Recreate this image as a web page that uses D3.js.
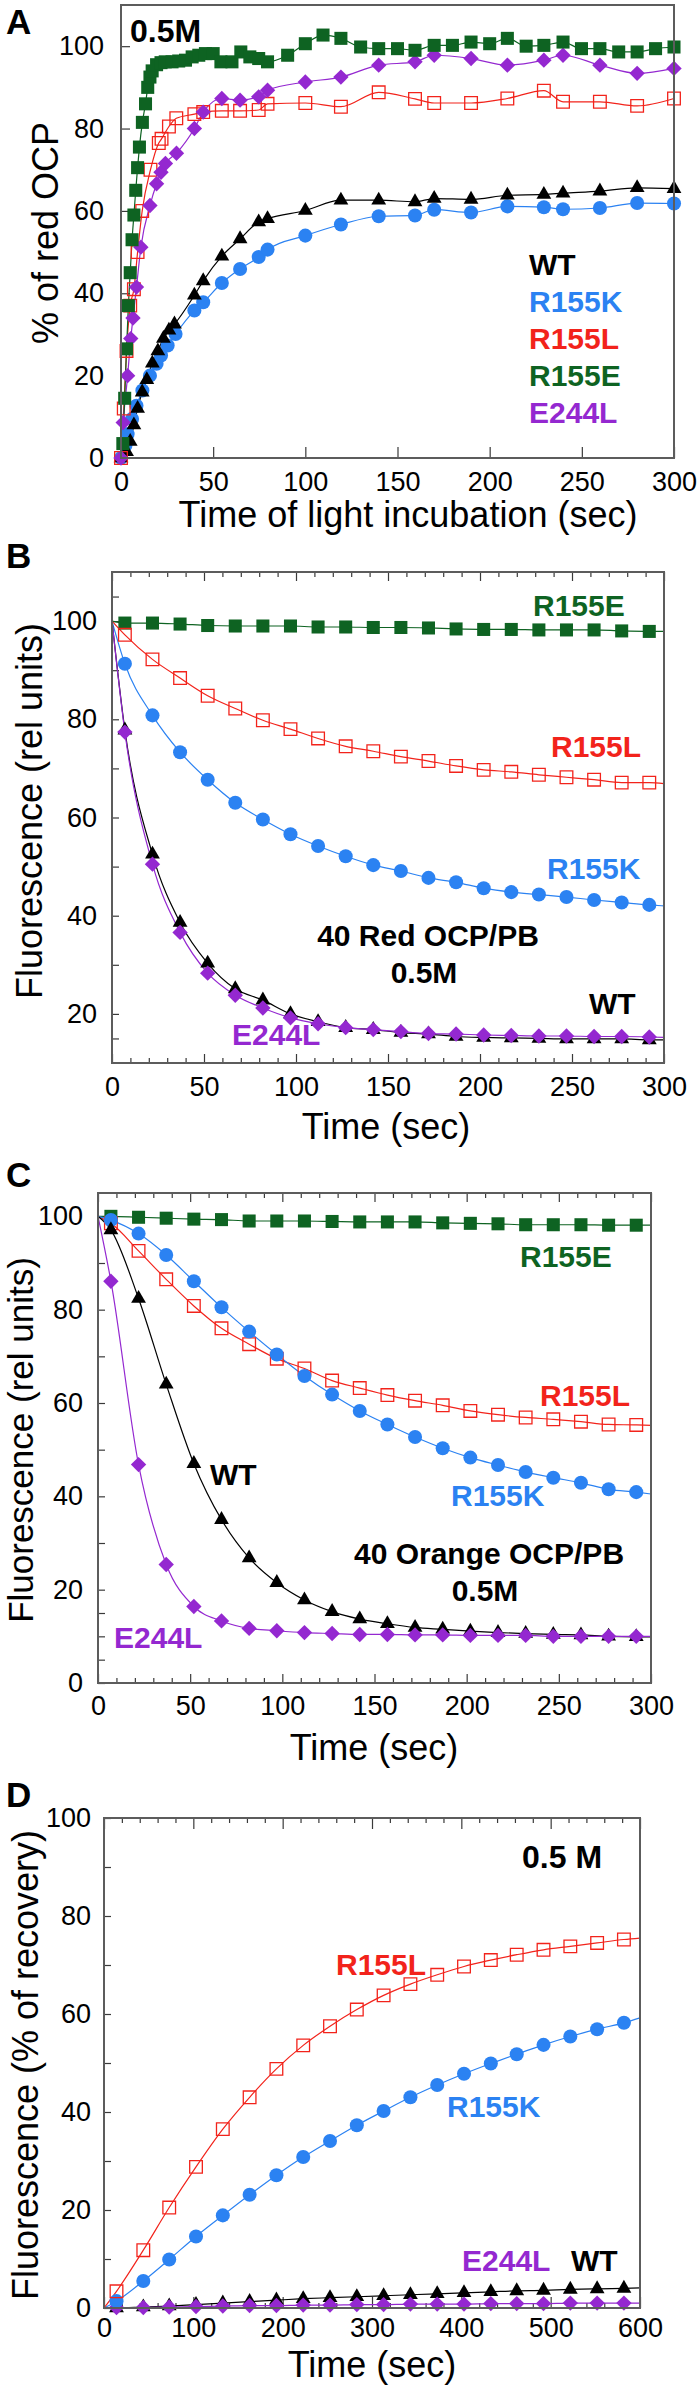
<!DOCTYPE html>
<html><head><meta charset="utf-8">
<script src="https://cdn.jsdelivr.net/npm/d3@7"></script>
<style>
body{margin:0;background:#fff}
svg{display:block}
</style>
</head><body>
<svg id="c" width="697" height="2386"></svg>
<script>
// ---------------- DATA ----------------
const seriesNames = ["R155K","WT","R155L","E244L","R155E"];

// Panel A: % of red OCP vs time of light incubation (sec)
const aR155K = [[0,0],[2.4,3],[3.6,5.8],[6,9.5],[8.4,12.7],[11.6,16.4],[15.7,20],[19.3,22.9],[21.7,24.9],[25.3,27.3],[29.6,30.1],[39.8,35.8],[44.6,37.8],[54.7,42.5],[64.6,45.9],[74.7,48.8],[79.5,50.6],[100,54],[119.3,56.7],[139.8,58.7],[159.5,58.9],[169.9,60.3],[189.9,59.6],[209.6,61.1],[229.4,60.9],[239.8,60.4],[259.8,60.7],[280,61.9],[300,61.8]];
const aWT = [[0,0],[3,1.5],[5,4],[7,8],[9,12],[11.5,16],[14,19],[17,23],[20,26],[23,29],[26,31],[29,32.5],[39.8,39.5],[44.6,43],[54.7,49],[64.6,53.2],[74.7,57.3],[79.5,58.1],[100,60.1],[119.3,62.6],[139.8,62.6],[159.5,62.2],[169.9,63],[189.9,62.8],[209.6,63.8],[229.4,64],[239.8,64.3],[259.8,64.8],[280,65.6],[300,65.4]];
const aR155L = [[0,0],[1.5,12],[3,26],[5,37],[7,41],[9,50],[11.5,60],[16,70],[20.5,76.5],[22,77.5],[26,80.5],[30,82.5],[39.8,83.5],[44.6,84],[54.7,84.3],[64.6,84.3],[74.7,84.5],[79.5,86],[100,86.2],[119.3,85.3],[139.8,88.8],[159.5,87.2],[169.9,86.2],[189.9,86.2],[209.6,87.3],[229.4,89.2],[239.8,86.5],[259.8,86.5],[280,85.5],[300,87.3]];
const aE244L = [[0,0],[1.2,8.6],[3.6,20],[5.3,29],[6.5,34],[8.4,41.5],[10.8,51.2],[15.7,61.3],[19.3,66.6],[21.7,69.4],[24.1,71.5],[30.1,74],[39.8,80],[44.6,84],[54.7,87.3],[64.6,86.9],[74.7,87.7],[79.5,89.3],[100,91.3],[119.3,92.5],[139.8,95.4],[159.5,96.2],[169.9,97.8],[189.9,97],[209.6,95.4],[229.4,96.6],[239.8,97.8],[259.8,95.4],[280,93.4],[300,94.6]];
const aR155E = [[1,3.5],[2,14.5],[3,26.5],[4,37],[5,45],[6,53],[7,59],[8,65],[9,70.5],[10,75.5],[11.6,81.5],[13.3,86],[14.5,90],[15.7,92.5],[16.9,94],[19.3,95.5],[21.7,96],[24,96.2],[27.7,96.2],[31.3,96.4],[35,96.6],[38.6,97.4],[42.2,97.8],[45.8,98.2],[50,98.2],[54.2,96.2],[60.2,96.2],[65,98.6],[69.9,97.4],[74.7,97],[79.5,96.2],[90.4,97.8],[100,100.6],[109.6,102.7],[119.3,101.9],[130,99.8],[139.8,99.4],[150,99.4],[159.5,99],[169.9,100.2],[179.8,100.2],[189.9,101],[200,100.6],[209.6,101.9],[219.8,100],[229.4,100.2],[239.8,101],[249.8,99.4],[259.8,99.4],[270,98.6],[280,98.6],[290,99.4],[300,99.8]];

// Panel B: 40 Red OCP/PB, fluorescence (rel units)
const bTimes = [7,22,37,52,67,82,97,112,127,142,157,172,187,202,217,232,247,262,277,292];
const bR155E = [99.6,99.6,99.4,99.1,99.0,99.0,99.0,98.8,98.8,98.7,98.7,98.6,98.4,98.3,98.3,98.2,98.2,98.2,98.0,97.9];
const bR155L = [97.2,92.2,88.4,84.8,82.2,79.8,78.0,76.1,74.5,73.5,72.4,71.5,70.5,69.7,69.3,68.7,68.2,67.7,67.1,67.1];
const bR155K = [91.3,80.8,73.3,67.7,63.0,59.6,56.6,54.2,52.1,50.3,49.1,47.7,46.8,45.6,44.8,44.3,43.8,43.2,42.7,42.2];
const bWT    = [77.8,52.5,38.6,30.3,25.1,22.8,20.0,18.4,17.2,16.8,16.2,15.9,15.4,15.2,15.1,15.0,14.9,14.9,14.9,14.7];
const bE244L = [77.4,50.5,36.6,28.3,23.8,21.2,19.2,18.0,17.2,16.8,16.4,16.0,15.9,15.7,15.6,15.5,15.5,15.4,15.4,15.3];
const bFitStart = 100;           // all fitted curves start at (0, 100)
const bFitEnd = {R155E:97.9, R155L:66.9, R155K:42.0, WT:14.7, E244L:15.2}; // curve value at t = 300

// Panel C: 40 Orange OCP/PB
const cTimes = [7,22,37,52,67,82,97,112,127,142,157,172,187,202,217,232,247,262,277,292];
const cR155E = [100,99.8,99.6,99.4,99.3,99.0,99.0,99.0,98.9,98.8,98.8,98.8,98.6,98.5,98.4,98.2,98.2,98.2,98.1,98.1];
const cR155L = [98.5,92.6,86.5,80.8,76.0,72.6,69.5,67.4,64.8,63.2,61.7,60.5,59.5,58.3,57.5,56.9,56.5,56.0,55.4,55.3];
const cR155K = [99.2,96.3,91.7,86.1,80.5,75.3,70.4,65.8,61.8,58.3,55.4,52.7,50.3,48.3,46.7,45.2,44.0,42.9,41.5,40.9];
const cWT    = [97.1,82.4,64.0,47.0,35.0,26.8,21.5,17.8,15.3,13.7,12.7,11.9,11.5,11.1,10.8,10.6,10.4,10.3,10.0,9.9];
const cE244L = [86.1,46.8,25.4,16.4,13.3,11.7,11.2,10.8,10.6,10.4,10.4,10.3,10.3,10.2,10.2,10.2,10.0,10.0,10.0,10.0];
const cFitStart = 100;
const cFitEnd = {R155E:98.1, R155L:55.2, R155K:40.5, WT:9.9, E244L:10.0};

// Panel D: recovery, % of recovery
const dTimes = [14,44,73,103,133,163,193,223,253,283,313,343,373,403,433,462,492,522,552,582];
const dR155L = [3.4,11.8,20.5,28.8,36.5,43.0,48.8,53.6,57.5,60.9,63.8,66.1,68.0,69.7,71.0,72.1,73.1,73.8,74.5,75.2];
const dR155K = [1.4,5.5,9.9,14.6,18.9,23.1,27.1,30.8,34.1,37.3,40.2,43.0,45.5,47.8,49.9,51.8,53.7,55.4,56.9,58.2];
const dWT    = [0,0.2,0.4,0.7,1.0,1.3,1.6,1.9,2.1,2.3,2.5,2.7,2.9,3.1,3.3,3.5,3.6,3.8,3.9,4.0];
const dE244L = [0.1,0.1,0.2,0.3,0.4,0.5,0.5,0.6,0.6,0.7,0.7,0.8,0.8,0.8,0.9,0.9,0.9,1.0,1.0,1.0];
const dFitStart = 0;
const dFitEnd = {R155L:75.5, R155K:59.2, WT:4.1, E244L:1.0};

// Tick values
const ticksX300 = [0,50,100,150,200,250,300];
const minorX300 = [10,20,30,40,60,70,80,90,110,120,130,140,160,170,180,190,210,220,230,240,260,270,280,290];
const ticksX600 = [0,100,200,300,400,500,600];
const minorX600 = [20,40,60,80,120,140,160,180,220,240,260,280,320,340,360,380,420,440,460,480,520,540,560,580];
const ticksY100 = [0,20,40,60,80,100];
const ticksYB = [20,40,60,80,100];
const minorYB = [15,30,50,70,90,105];
const minorYC = [5,10,15,30,50,70,90];
const minorYD = [10,30,50,70,90];

// ---------------- STYLE ----------------
const FONT = '"Liberation Sans", Arial, Helvetica, sans-serif';
const COLORS = {WT:"#000000", R155K:"#2b82f2", R155L:"#f2231b", R155E:"#0e6322", E244L:"#9428d0"};
const svg = d3.select("#c");
svg.append("rect").attr("width",697).attr("height",2386).attr("fill","#fff");

const symGen = {
  WT: d3.symbol().type(d3.symbolTriangle).size(95),
  R155K: d3.symbol().type(d3.symbolCircle).size(155),
  R155L: d3.symbol().type(d3.symbolSquare).size(160),
  R155E: d3.symbol().type(d3.symbolSquare).size(170),
  E244L: d3.symbol().type(d3.symbolSquare).size(118)
};

function zip(times, vals){ return times.map((t,i)=>[t, vals[i]]); }

function drawPanel(p){
  const x = d3.scaleLinear().domain(p.xDomain).range([p.left, p.right]);
  const y = d3.scaleLinear().domain(p.yDomain).range([p.bottom, p.top]);
  const g = svg.append("g");

  const tickCol = "#3a3a3a";
  function styleAxis(ax, fs){
    ax.select(".domain").remove();
    ax.attr("font-family", FONT).attr("font-size", fs);
    ax.selectAll("line").attr("stroke", tickCol).attr("stroke-width", 1.2);
    ax.selectAll("text").attr("fill","#000");
  }
  const bx = g.append("g").attr("transform",`translate(0,${p.bottom})`)
    .call(d3.axisBottom(x).tickValues(p.xTicks).tickSize(-p.majLen).tickPadding(p.xPad).tickFormat(d3.format("d")));
  styleAxis(bx, 27);
  if (p.xMinor){
    const bm = g.append("g").attr("transform",`translate(0,${p.bottom})`)
      .call(d3.axisBottom(x).tickValues(p.xMinor).tickSize(-p.minLen).tickFormat(()=>""));
    styleAxis(bm, 10);
    const tm = g.append("g").attr("transform",`translate(0,${p.top})`)
      .call(d3.axisTop(x).tickValues(p.xMinor).tickSize(-p.minLen).tickFormat(()=>""));
    styleAxis(tm, 10);
    const tM = g.append("g").attr("transform",`translate(0,${p.top})`)
      .call(d3.axisTop(x).tickValues(p.xTicks).tickSize(-p.majLen).tickFormat(()=>""));
    styleAxis(tM, 10);
  }
  const ly = g.append("g").attr("transform",`translate(${p.left},0)`)
    .call(d3.axisLeft(y).tickValues(p.yTicks).tickSize(-p.yLen).tickPadding(p.yPad).tickFormat(d3.format("d")));
  styleAxis(ly, 27);
  if (p.yMinor){
    const lm = g.append("g").attr("transform",`translate(${p.left},0)`)
      .call(d3.axisLeft(y).tickValues(p.yMinor).tickSize(-p.yLen).tickFormat(()=>""));
    styleAxis(lm, 10);
  }

  const line = d3.line().x(d=>x(d[0])).y(d=>y(d[1])).curve(d3.curveMonotoneX);
  p.series.forEach(s=>{
    g.append("path").datum(s.line).attr("d", line)
      .attr("fill","none").attr("stroke", COLORS[s.name]).attr("stroke-width", 1.2);
  });
  p.series.forEach(s=>{
    const gen = symGen[s.name];
    g.append("g").selectAll("path").data(s.pts).join("path")
      .attr("d", gen)
      .attr("transform", d=>`translate(${x(d[0])},${y(d[1])})` + (s.name==="E244L" ? " rotate(45)" : ""))
      .attr("fill", s.name==="R155L" ? "none" : COLORS[s.name])
      .attr("stroke", s.name==="R155L" ? COLORS[s.name] : "none")
      .attr("stroke-width", 1.3);
  });

  g.append("rect").attr("x",p.left).attr("y",p.top)
    .attr("width",p.right-p.left).attr("height",p.bottom-p.top)
    .attr("fill","none").attr("stroke","#5c5c5c").attr("stroke-width",2);

  g.append("text").attr("x",p.xl[0]).attr("y",p.xl[1]).attr("text-anchor","middle")
    .attr("font-family",FONT).attr("font-size",36).text(p.xTitle);
  g.append("text").attr("transform",`translate(${p.yl[0]},${p.yl[1]}) rotate(-90)`)
    .attr("text-anchor","middle").attr("font-family",FONT).attr("font-size",p.ylSize||36).text(p.yTitle);
  g.append("text").attr("x",p.letter[1]).attr("y",p.letter[2]).attr("font-family",FONT)
    .attr("font-weight","bold").attr("font-size",35).text(p.letter[0]);
  p.notes.forEach(n=>{
    g.append("text").attr("x",n[1]).attr("y",n[2]).attr("text-anchor",n[4]||"start")
      .attr("font-family",FONT).attr("font-weight","bold").attr("font-size",n[5]||30)
      .attr("fill",COLORS[n[3]]||"#000").text(n[0]);
  });
}

function fitSeries(times, vals, start, end, t0, t1){
  return [[t0,start]].concat(zip(times, vals)).concat([[t1,end]]);
}

// Panel A
drawPanel({
  left:121, right:674, top:5, bottom:458, xDomain:[0,300], yDomain:[0,110],
  xTicks:ticksX300, yTicks:ticksY100, majLen:11, yLen:9, xPad:14, yPad:17,
  xTitle:"Time of light incubation (sec)", xl:[408,527],
  yTitle:"% of red OCP", yl:[58,233],
  letter:["A",6,34],
  series:[
    {name:"R155K", pts:aR155K, line:aR155K},
    {name:"WT", pts:aWT, line:aWT},
    {name:"R155L", pts:aR155L, line:aR155L},
    {name:"E244L", pts:aE244L, line:aE244L},
    {name:"R155E", pts:aR155E, line:aR155E}
  ],
  notes:[["0.5M",130,42,"",null,32],
    ["WT",529,275,"WT"],["R155K",529,312,"R155K"],["R155L",529,349,"R155L"],
    ["R155E",529,386,"R155E"],["E244L",529,423,"E244L"]]
});

// Panel B
drawPanel({
  left:112, right:664, top:572, bottom:1063, xDomain:[0,300], yDomain:[10,110],
  xTicks:ticksX300, xMinor:minorX300, yTicks:ticksYB, yMinor:minorYB, majLen:9, minLen:5, yLen:7, xPad:14, yPad:15,
  xTitle:"Time (sec)", xl:[386,1139],
  yTitle:"Fluorescence (rel units)", yl:[42,811],
  letter:["B",6,568],
  series:[
    {name:"R155E", pts:zip(bTimes,bR155E), line:fitSeries(bTimes,bR155E,bFitStart,bFitEnd.R155E,0,300)},
    {name:"R155L", pts:zip(bTimes,bR155L), line:fitSeries(bTimes,bR155L,bFitStart,bFitEnd.R155L,0,300)},
    {name:"R155K", pts:zip(bTimes,bR155K), line:fitSeries(bTimes,bR155K,bFitStart,bFitEnd.R155K,0,300)},
    {name:"WT", pts:zip(bTimes,bWT), line:fitSeries(bTimes,bWT,bFitStart,bFitEnd.WT,0,300)},
    {name:"E244L", pts:zip(bTimes,bE244L), line:fitSeries(bTimes,bE244L,bFitStart,bFitEnd.E244L,0,300)}
  ],
  notes:[["R155E",533,616,"R155E"],["R155L",551,757,"R155L"],["R155K",547,879,"R155K"],
    ["40 Red OCP/PB",428,946,"",  "middle"],["0.5M",424,983,"","middle"],
    ["WT",589,1014,"WT"],["E244L",232,1045,"E244L"]]
});

// Panel C
drawPanel({
  left:98, right:651, top:1193, bottom:1683, xDomain:[0,300], yDomain:[0,105],
  xTicks:ticksX300, xMinor:minorX300, yTicks:ticksY100, yMinor:minorYC, majLen:9, minLen:5, yLen:7, xPad:13, yPad:15,
  xTitle:"Time (sec)", xl:[374,1760],
  yTitle:"Fluorescence (rel units)", yl:[33,1440], ylSize:35,
  letter:["C",6,1187],
  series:[
    {name:"R155E", pts:zip(cTimes,cR155E), line:fitSeries(cTimes,cR155E,cFitStart,cFitEnd.R155E,0,300)},
    {name:"R155L", pts:zip(cTimes,cR155L), line:fitSeries(cTimes,cR155L,cFitStart,cFitEnd.R155L,0,300)},
    {name:"R155K", pts:zip(cTimes,cR155K), line:fitSeries(cTimes,cR155K,cFitStart,cFitEnd.R155K,0,300)},
    {name:"WT", pts:zip(cTimes,cWT), line:fitSeries(cTimes,cWT,cFitStart,cFitEnd.WT,0,300)},
    {name:"E244L", pts:zip(cTimes,cE244L), line:fitSeries(cTimes,cE244L,cFitStart,cFitEnd.E244L,0,300)}
  ],
  notes:[["R155E",520,1267,"R155E"],["R155L",540,1406,"R155L"],["WT",210,1485,"WT"],
    ["R155K",451,1506,"R155K"],["40 Orange OCP/PB",489,1564,"","middle"],["0.5M",485,1601,"","middle"],
    ["E244L",114,1648,"E244L"]]
});

// Panel D
drawPanel({
  left:104, right:640, top:1818, bottom:2308, xDomain:[0,600], yDomain:[0,100],
  xTicks:ticksX600, xMinor:minorX600, yTicks:ticksY100, yMinor:minorYD, majLen:11, minLen:5, yLen:7, xPad:10, yPad:13,
  xTitle:"Time (sec)", xl:[372,2377],
  yTitle:"Fluorescence (% of recovery)", yl:[38,2065],
  letter:["D",6,1807],
  series:[
    {name:"WT", pts:zip(dTimes,dWT), line:fitSeries(dTimes,dWT,dFitStart,dFitEnd.WT,0,600)},
    {name:"E244L", pts:zip(dTimes,dE244L), line:fitSeries(dTimes,dE244L,dFitStart,dFitEnd.E244L,0,600)},
    {name:"R155K", pts:zip(dTimes,dR155K), line:fitSeries(dTimes,dR155K,dFitStart,dFitEnd.R155K,0,600)},
    {name:"R155L", pts:zip(dTimes,dR155L), line:fitSeries(dTimes,dR155L,dFitStart,dFitEnd.R155L,0,600)}
  ],
  notes:[["0.5 M",522,1868,"",null,32],["R155L",336,1975,"R155L"],["R155K",447,2117,"R155K"],
    ["E244L",462,2271,"E244L"],["WT",571,2271,"WT"]]
});
</script>
</body></html>
